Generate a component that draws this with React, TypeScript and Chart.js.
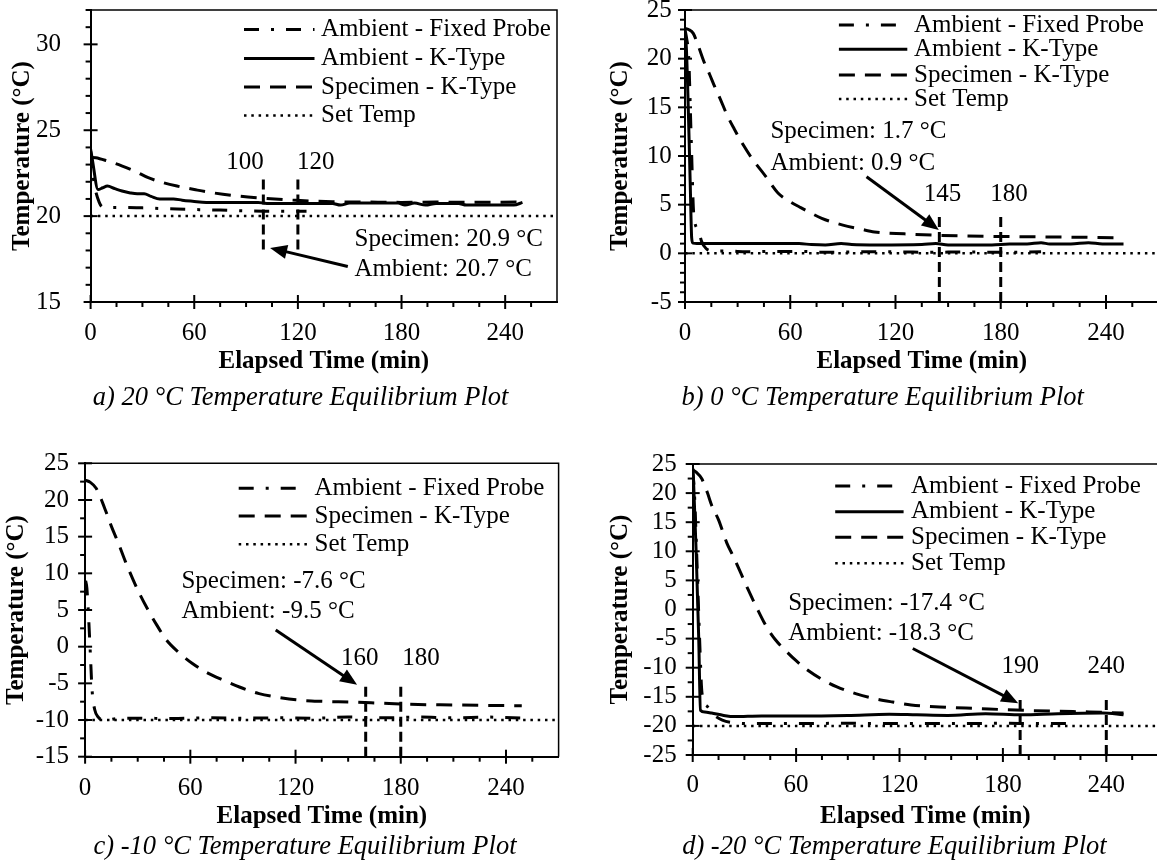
import React, { useEffect, useRef } from "react";
import { Chart, registerables } from "chart.js";

Chart.register(...registerables);

const SERIF = "'Liberation Serif', 'Times New Roman', Times, serif";

type Pt = [number, number];
type Kind = "fixed" | "ambient" | "specimen" | "set";

// ---------------- axis tick labels ----------------
const xMajorTicks = [0, 60, 120, 180, 240];
const yTicksA = [15, 20, 25, 30];
const yTicksB = [-5, 0, 5, 10, 15, 20, 25];
const yTicksC = [-15, -10, -5, 0, 5, 10, 15, 20, 25];
const yTicksD = [-25, -20, -15, -10, -5, 0, 5, 10, 15, 20, 25];

const LBL_FIXED = "Ambient - Fixed Probe";
const LBL_AMBIENT = "Ambient - K-Type";
const LBL_SPECIMEN = "Specimen - K-Type";
const LBL_SET = "Set Temp";

// ---------------- a) 20 °C ----------------
const aFixedProbe: Pt[] = [[0, 23.8], [1.6, 22.2], [5, 20.8], [8, 20.5], [20, 20.5], [30, 20.48], [50, 20.41], [75, 20.35], [100, 20.29], [125, 20.29]];
const aAmbientK: Pt[] = [[0, 23.9], [1, 23.3], [4.3, 21.55], [7, 21.65], [9.7, 21.75], [14, 21.6], [18.2, 21.46], [23, 21.35], [27, 21.3], [31, 21.3], [35, 21.15], [40, 21.0], [48, 21.0], [53, 20.93], [59, 20.87], [67, 20.8], [97, 20.8], [102, 20.74], [140, 20.74], [144.6, 20.64], [150, 20.76], [178, 20.76], [182, 20.64], [187.5, 20.76], [193.9, 20.64], [200, 20.74], [213, 20.74], [217.5, 20.64], [245, 20.64], [250, 20.8]];
const aSpecimenK: Pt[] = [[0, 23.42], [3, 23.4], [10, 23.2], [18, 22.93], [26, 22.6], [33, 22.25], [42, 21.95], [50, 21.75], [60, 21.55], [68, 21.4], [85, 21.17], [102, 21.03], [119, 20.92], [140, 20.84], [160, 20.82], [180, 20.8], [200, 20.82], [220, 20.8], [250, 20.82]];
const aSetTemp: Pt[] = [[0, 20], [270, 20]];
const aMarkers = [100, 120];
const aMarkerRange: Pt = [18.05, 22.15];
const aArrow: Pt[] = [[148.9, 17.07], [103.9, 18.15]];
const aCallout = ["Specimen: 20.9 °C", "Ambient: 20.7 °C"];

// ---------------- b) 0 °C ----------------
const bFixedProbe: Pt[] = [[0, 23], [1, 22], [2.1, 20.2], [3.5, 12], [5, 4], [7.6, 2.4], [9.5, 1.2], [12, 0.5], [16, 0.25], [25, 0.25], [35, 0.15], [50, 0.2], [65, 0.2], [80, 0.1], [100, 0.15], [120, 0.15], [140, 0.1], [160, 0.15], [180, 0.1], [203, 0.15]];
const bAmbientK: Pt[] = [[0, 22.5], [0.8, 21], [2, 14], [3, 7], [3.8, 1.6], [4.5, 1.05], [10, 1.0], [30, 1.0], [50, 1.0], [65, 1.0], [72, 0.9], [80, 0.85], [89, 1.0], [95, 0.9], [110, 0.85], [135, 0.9], [143, 1.0], [150, 0.85], [175, 0.85], [185, 0.95], [195, 0.95], [203, 1.1], [208, 0.95], [220, 0.95], [230, 1.1], [238, 0.95], [250, 0.95]];
const bSpecimenK: Pt[] = [[0, 23.1], [2, 23.0], [4.7, 22.6], [7.6, 21.3], [11, 19.6], [14, 18.4], [17, 17.1], [20, 15.9], [24, 14.2], [28, 12.8], [33, 11.2], [38, 9.8], [46, 7.9], [53, 6.2], [60, 5.3], [66, 4.7], [78, 3.6], [90, 2.9], [100, 2.5], [108, 2.2], [125, 2.0], [145, 1.85], [171, 1.75], [200, 1.7], [225, 1.65], [250, 1.6]];
const bSetTemp: Pt[] = [[0, 0], [270, 0]];
const bMarkers = [145, 180];
const bMarkerRange: Pt = [-5, 3.94];
const bArrow: Pt[] = [[103.5, 7.87], [144.7, 2.4]];
const bCallout = ["Specimen: 1.7 °C", "Ambient: 0.9 °C"];

// ---------------- c) -10 °C ----------------
const cFixedProbe: Pt[] = [[0.3, 9], [1, 8], [2, 4], [3, -1], [4, -6], [5.5, -8.6], [7.5, -9.6], [10, -10.0], [13, -10.0], [18, -9.8], [30, -9.75], [50, -9.8], [70, -9.7], [90, -9.75], [110, -9.7], [130, -9.75], [150, -9.6], [170, -9.7], [190, -9.6], [210, -9.7], [230, -9.6], [251, -9.75]];
const cSpecimenK: Pt[] = [[0, 22.7], [3, 22.4], [6.3, 21.6], [9, 20.2], [11.6, 18.6], [15, 16.4], [19, 14.1], [23, 11.6], [27.4, 9.1], [31.5, 7.0], [35.9, 5.0], [41, 2.9], [46.4, 0.9], [53, -0.7], [61.2, -2.3], [70, -3.6], [78.1, -4.5], [88, -5.5], [99.2, -6.4], [110, -6.9], [120.3, -7.25], [135, -7.45], [152, -7.55], [168, -7.7], [183.6, -7.85], [210, -7.95], [249, -8.05]];
const cSetTemp: Pt[] = [[0, -10], [270, -10]];
const cMarkers = [160, 180];
const cMarkerRange: Pt = [-15, -5.2];
const cArrow: Pt[] = [[108.7, 2.27], [155.1, -5.2]];
const cCallout = ["Specimen: -7.6 °C", "Ambient: -9.5 °C"];

// ---------------- d) -20 °C ----------------
const dFixedProbe: Pt[] = [[0, 24], [1, 20], [2.5, 8], [4, -5], [5.4, -14.4], [8.6, -16.7], [12, -18], [17.2, -19.0], [23.6, -19.45], [35, -19.6], [60, -19.6], [90, -19.55], [120, -19.6], [150, -19.6], [180, -19.55], [200, -19.6], [221, -19.6]];
const dAmbientK: Pt[] = [[0, 24.3], [0.5, 22], [2, 10], [3.5, -5], [4.5, -17.3], [7, -17.6], [11, -17.8], [18, -18.2], [24, -18.4], [40, -18.3], [62, -18.3], [90, -18.2], [114, -18.0], [130, -18.1], [148, -18.2], [170, -17.9], [191, -18.1], [212, -17.9], [238, -17.8], [250, -18.1]];
const dSpecimenK: Pt[] = [[0, 24.0], [2, 23.6], [5.2, 22.5], [8.6, 20.0], [11, 17.9], [15, 15.4], [19.7, 11.5], [23.6, 9.1], [28, 6.2], [32.2, 3.4], [37, 0.4], [42.9, -3.0], [48, -5.2], [53.7, -7.0], [60, -8.8], [66.6, -10.4], [75, -12.0], [83.7, -13.3], [95, -14.5], [105.2, -15.3], [116, -15.9], [126.7, -16.4], [148.1, -16.8], [165, -17.0], [180.3, -17.2], [195, -17.35], [212.5, -17.5], [230, -17.6], [250, -17.8]];
const dSetTemp: Pt[] = [[0, -20], [270, -20]];
const dMarkers = [190, 240];
const dMarkerRange: Pt = [-25, -15.5];
const dArrow: Pt[] = [[127.7, -6.7], [188.9, -16.1]];
const dCallout = ["Specimen: -17.4 °C", "Ambient: -18.3 °C"];

// ---------------- styles ----------------
const STYLES: Record<Kind, { dash: number[]; width: number }> = {
  fixed: { dash: [15, 12, 3, 12], width: 3 },
  ambient: { dash: [], width: 3 },
  specimen: { dash: [16, 10], width: 3 },
  set: { dash: [2.5, 4.8], width: 2.5 },
};
const MARKER_STYLE = { dash: [10, 5], width: 3 };

interface Series { label: string; kind: Kind; data: Pt[]; smooth: boolean }
interface Panel {
  key: string;
  box: { x: number; y: number; w: number; h: number };
  area: { l: number; t: number; r: number; b: number };
  yMin: number; yMax: number; yTicks: number[]; yMinor: number;
  yTickPad: number; xTickPad: number; yTitlePad: number; xTitlePad: number;
  series: Series[];
  markers: number[]; markerRange: Pt;
  markerLabels: { t: number; v: number }[];
  arrow: Pt[];
  callout: string[]; calloutPos: { t: number; v: number[] };
  legend: { x0: number; x1: number; tx: number; rows: number[] };
  caption: { text: string; x: number; y: number };
}

const PANELS: Panel[] = [
  {
    key: "a",
    box: { x: 0, y: 0, w: 578, h: 430 },
    area: { l: 90.6, t: 10, r: 557, b: 302 },
    yMin: 15, yMax: 32, yTicks: yTicksA, yMinor: 1,
    yTickPad: 29.6, xTickPad: 18.5, yTitlePad: 9.7, xTitlePad: 55.5,
    series: [
      { label: LBL_FIXED, kind: "fixed", data: aFixedProbe, smooth: true },
      { label: LBL_AMBIENT, kind: "ambient", data: aAmbientK, smooth: true },
      { label: LBL_SPECIMEN, kind: "specimen", data: aSpecimenK, smooth: true },
      { label: LBL_SET, kind: "set", data: aSetTemp, smooth: false },
    ],
    markers: aMarkers, markerRange: aMarkerRange,
    markerLabels: [{ t: 89.4, v: 23.1 }, { t: 130.3, v: 23.1 }],
    arrow: aArrow,
    callout: aCallout, calloutPos: { t: 152.8, v: [18.63, 16.87] },
    legend: { x0: 244, x1: 314.5, tx: 321, rows: [29.5, 58.5, 87, 115.5] },
    caption: { text: "a) 20 °C Temperature Equilibrium Plot", x: 300.6, y: 398.3 },
  },
  {
    key: "b",
    box: { x: 578, y: 0, w: 600, h: 430 },
    area: { l: 107, t: 10, r: 580.6, b: 302 },
    yMin: -5, yMax: 25, yTicks: yTicksB, yMinor: 1,
    yTickPad: 13.3, xTickPad: 18.5, yTitlePad: 30.1, xTitlePad: 55.5,
    series: [
      { label: LBL_FIXED, kind: "fixed", data: bFixedProbe, smooth: true },
      { label: LBL_AMBIENT, kind: "ambient", data: bAmbientK, smooth: true },
      { label: LBL_SPECIMEN, kind: "specimen", data: bSpecimenK, smooth: true },
      { label: LBL_SET, kind: "set", data: bSetTemp, smooth: false },
    ],
    markers: bMarkers, markerRange: bMarkerRange,
    markerLabels: [{ t: 146.8, v: 6.0 }, { t: 184.7, v: 6.0 }],
    arrow: bArrow,
    callout: bCallout, calloutPos: { t: 48.7, v: [12.5, 9.25] },
    legend: { x0: 260.9, x1: 329.3, tx: 336, rows: [25, 49.3, 75, 99] },
    caption: { text: "b) 0 °C Temperature Equilibrium Plot", x: 304.7, y: 398.3 },
  },
  {
    key: "c",
    box: { x: 0, y: 430, w: 578, h: 436 },
    area: { l: 85.1, t: 33.3, r: 558.6, b: 326.7 },
    yMin: -15, yMax: 25, yTicks: yTicksC, yMinor: 2.5,
    yTickPad: 16, xTickPad: 19.1, yTitlePad: 4.2, xTitlePad: 36.8,
    series: [
      { label: LBL_FIXED, kind: "fixed", data: cFixedProbe, smooth: true },
      { label: LBL_SPECIMEN, kind: "specimen", data: cSpecimenK, smooth: true },
      { label: LBL_SET, kind: "set", data: cSetTemp, smooth: false },
    ],
    markers: cMarkers, markerRange: cMarkerRange,
    markerLabels: [{ t: 156.6, v: -1.6 }, { t: 191.5, v: -1.6 }],
    arrow: cArrow,
    callout: cCallout, calloutPos: { t: 54.9, v: [8.86, 4.77] },
    legend: { x0: 238.7, x1: 307.1, tx: 314.5, rows: [58.3, 86, 114.3] },
    caption: { text: "c) -10 °C Temperature Equilibrium Plot", x: 305, y: 416.7 },
  },
  {
    key: "d",
    box: { x: 578, y: 430, w: 600, h: 436 },
    area: { l: 114.7, t: 34, r: 580, b: 325 },
    yMin: -25, yMax: 25, yTicks: yTicksD, yMinor: 2.5,
    yTickPad: 16, xTickPad: 17.5, yTitlePad: 30.1, xTitlePad: 36.8,
    series: [
      { label: LBL_FIXED, kind: "fixed", data: dFixedProbe, smooth: true },
      { label: LBL_AMBIENT, kind: "ambient", data: dAmbientK, smooth: true },
      { label: LBL_SPECIMEN, kind: "specimen", data: dSpecimenK, smooth: true },
      { label: LBL_SET, kind: "set", data: dSetTemp, smooth: false },
    ],
    markers: dMarkers, markerRange: dMarkerRange,
    markerLabels: [{ t: 190, v: -9.8 }, { t: 240, v: -9.8 }],
    arrow: dArrow,
    callout: dCallout, calloutPos: { t: 55.4, v: [1.06, -4.1] },
    legend: { x0: 257.2, x1: 325.6, tx: 333, rows: [56, 81.7, 107.3, 133.3] },
    caption: { text: "d) -20 °C Temperature Equilibrium Plot", x: 316.4, y: 416.7 },
  },
];

const X_MIN = 0;
const X_MAX = 270;
const X_MINOR = 15;

function makeDecor(p: Panel) {
  return {
    id: "decor_" + p.key,
    afterDraw(chart: any) {
      const ctx: CanvasRenderingContext2D = chart.ctx;
      const { left, top, right, bottom } = chart.chartArea;
      const xs = chart.scales.x;
      const ys = chart.scales.y;
      const line = (x1: number, y1: number, x2: number, y2: number) => {
        ctx.beginPath();
        ctx.moveTo(x1, y1);
        ctx.lineTo(x2, y2);
        ctx.stroke();
      };
      ctx.save();
      ctx.strokeStyle = "#000";
      ctx.fillStyle = "#000";
      ctx.setLineDash([]);
      // frame (top & right)
      ctx.lineWidth = 1.5;
      ctx.beginPath();
      ctx.moveTo(left, top);
      ctx.lineTo(right, top);
      ctx.lineTo(right, bottom);
      ctx.stroke();
      // ticks
      ctx.lineWidth = 2;
      const nx = Math.round((X_MAX - X_MIN) / X_MINOR);
      for (let i = 0; i < nx; i++) {
        const v = X_MIN + i * X_MINOR;
        const px = xs.getPixelForValue(v);
        if (xMajorTicks.includes(v)) line(px, bottom - 7, px, bottom + 7);
        else line(px, bottom, px, bottom + 5);
      }
      const ny = Math.round((p.yMax - p.yMin) / p.yMinor);
      for (let i = 0; i <= ny; i++) {
        const v = p.yMin + i * p.yMinor;
        const py = ys.getPixelForValue(v);
        if (p.yTicks.some((t) => Math.abs(t - v) < 1e-6)) line(left - 7, py, left + 7, py);
        else line(left - 5, py, left, py);
      }
      // legend
      ctx.font = `25px ${SERIF}`;
      ctx.textAlign = "left";
      ctx.textBaseline = "middle";
      p.series.forEach((s, i) => {
        const y = p.legend.rows[i];
        const st = STYLES[s.kind];
        ctx.lineWidth = st.width;
        ctx.setLineDash(st.dash);
        line(p.legend.x0, y, p.legend.x1, y);
        ctx.setLineDash([]);
        ctx.fillText(s.label, p.legend.tx, y);
      });
      // marker labels
      ctx.textAlign = "center";
      p.markers.forEach((m, i) => {
        const lp = p.markerLabels[i];
        ctx.fillText(String(m), xs.getPixelForValue(lp.t), ys.getPixelForValue(lp.v));
      });
      // callout
      ctx.textAlign = "left";
      p.callout.forEach((txt, i) => {
        ctx.fillText(txt, xs.getPixelForValue(p.calloutPos.t), ys.getPixelForValue(p.calloutPos.v[i]));
      });
      // arrow
      const [s0, s1] = p.arrow;
      const ax0 = xs.getPixelForValue(s0[0]);
      const ay0 = ys.getPixelForValue(s0[1]);
      const ax1 = xs.getPixelForValue(s1[0]);
      const ay1 = ys.getPixelForValue(s1[1]);
      const ang = Math.atan2(ay1 - ay0, ax1 - ax0);
      const headL = 17;
      const headW = 7;
      const bx = ax1 - Math.cos(ang) * headL;
      const by = ay1 - Math.sin(ang) * headL;
      ctx.lineWidth = 3;
      line(ax0, ay0, bx + Math.cos(ang) * 2, by + Math.sin(ang) * 2);
      ctx.beginPath();
      ctx.moveTo(ax1, ay1);
      ctx.lineTo(bx + Math.sin(ang) * headW, by - Math.cos(ang) * headW);
      ctx.lineTo(bx - Math.sin(ang) * headW, by + Math.cos(ang) * headW);
      ctx.closePath();
      ctx.fill();
      // caption
      ctx.font = `italic 26.5px ${SERIF}`;
      ctx.textAlign = "center";
      ctx.fillText(p.caption.text, p.caption.x, p.caption.y);
      ctx.restore();
    },
  };
}

function buildConfig(p: Panel): any {
  const datasets: any[] = p.series.map((s) => ({
    label: s.label,
    data: s.data.map(([x, y]) => ({ x, y })),
    borderColor: "#000",
    backgroundColor: "#000",
    borderWidth: STYLES[s.kind].width,
    borderDash: STYLES[s.kind].dash,
    borderCapStyle: "butt",
    pointRadius: 0,
    pointHoverRadius: 0,
    fill: false,
    tension: 0,
    cubicInterpolationMode: s.smooth ? "monotone" : "default",
  }));
  p.markers.forEach((m) => {
    datasets.push({
      label: "marker " + m,
      data: [{ x: m, y: p.markerRange[0] }, { x: m, y: p.markerRange[1] }],
      borderColor: "#000",
      borderWidth: MARKER_STYLE.width,
      borderDash: MARKER_STYLE.dash,
      pointRadius: 0,
      fill: false,
    });
  });
  const tickFont = { family: SERIF, size: 25, lineHeight: 1 };
  const titleFont = { family: SERIF, size: 25, weight: "bold", lineHeight: 1 };
  return {
    type: "line",
    data: { datasets },
    options: {
      responsive: false,
      animation: false,
      devicePixelRatio: 1,
      events: [],
      layout: { padding: { left: 0, top: p.area.t, right: p.box.w - p.area.r, bottom: 0 } },
      plugins: { legend: { display: false }, tooltip: { enabled: false }, title: { display: false } },
      scales: {
        x: {
          type: "linear",
          min: X_MIN,
          max: X_MAX,
          afterBuildTicks: (s: any) => { s.ticks = xMajorTicks.map((v) => ({ value: v })); },
          afterFit: (s: any) => { s.height = p.box.h - p.area.b; s.paddingLeft = 0; s.paddingRight = 0; },
          grid: { display: false, drawTicks: false },
          border: { display: true, color: "#000", width: 2 },
          ticks: { color: "#000", font: tickFont, padding: p.xTickPad, maxRotation: 0, autoSkip: false, callback: (v: any) => String(v) },
          title: { display: true, text: "Elapsed Time (min)", color: "#000", font: titleFont, padding: { top: 0, bottom: p.xTitlePad } },
        },
        y: {
          type: "linear",
          min: p.yMin,
          max: p.yMax,
          afterBuildTicks: (s: any) => { s.ticks = p.yTicks.map((v) => ({ value: v })); },
          afterFit: (s: any) => { s.width = p.area.l; s.paddingTop = 0; s.paddingBottom = 0; },
          grid: { display: false, drawTicks: false },
          border: { display: true, color: "#000", width: 2 },
          ticks: { color: "#000", font: tickFont, padding: p.yTickPad, autoSkip: false, callback: (v: any) => String(v) },
          title: { display: true, text: "Temperature (°C)", color: "#000", font: titleFont, padding: { top: p.yTitlePad, bottom: 0 } },
        },
      },
    },
    plugins: [makeDecor(p)],
  };
}

function PanelChart({ p }: { p: Panel }) {
  const ref = useRef<HTMLCanvasElement>(null);
  useEffect(() => {
    if (!ref.current) return;
    const chart = new Chart(ref.current, buildConfig(p));
    return () => chart.destroy();
  }, [p]);
  return (
    <canvas
      ref={ref}
      width={p.box.w}
      height={p.box.h}
      style={{ position: "absolute", left: p.box.x, top: p.box.y, width: p.box.w, height: p.box.h }}
    />
  );
}

export default function App() {
  return (
    <div style={{ position: "absolute", left: 0, top: 0, width: 1157, height: 866, overflow: "hidden", background: "#fff" }}>
      {PANELS.map((p) => (
        <PanelChart key={p.key} p={p} />
      ))}
    </div>
  );
}
